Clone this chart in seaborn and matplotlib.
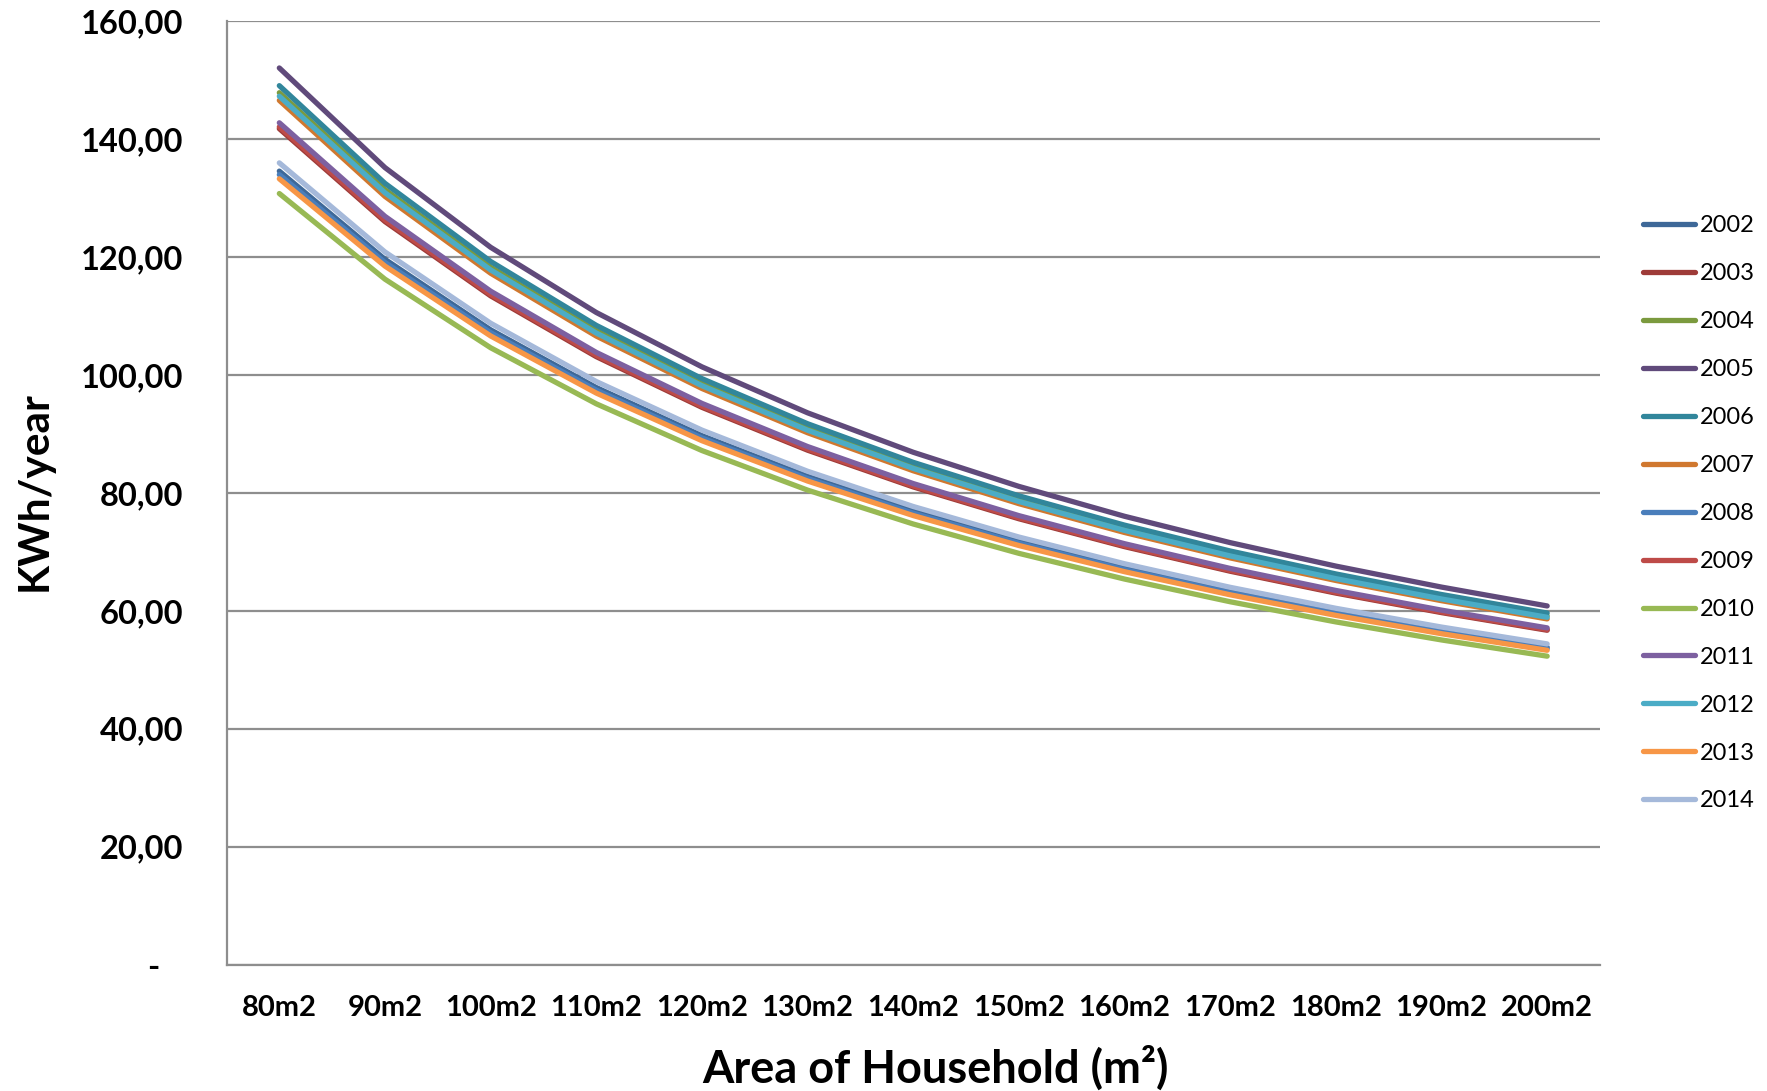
import matplotlib
matplotlib.use("Agg")
import matplotlib.pyplot as plt
import seaborn as sns
import pandas as pd

areas = ["80m2", "90m2", "100m2", "110m2", "120m2", "130m2", "140m2",
         "150m2", "160m2", "170m2", "180m2", "190m2", "200m2"]
years = ["2002", "2003", "2004", "2005", "2006", "2007", "2008",
         "2009", "2010", "2011", "2012", "2013", "2014"]

v2002 = [134.60, 119.64, 107.68, 97.89, 89.73, 82.83, 76.91, 71.79, 67.30, 63.34, 59.82, 56.67, 53.84]
v2003 = [141.80, 126.04, 113.44, 103.13, 94.53, 87.26, 81.03, 75.63, 70.90, 66.73, 63.02, 59.71, 56.72]
v2004 = [147.90, 131.47, 118.32, 107.56, 98.60, 91.02, 84.51, 78.88, 73.95, 69.60, 65.73, 62.27, 59.16]
v2005 = [152.10, 135.20, 121.68, 110.62, 101.40, 93.60, 86.91, 81.12, 76.05, 71.58, 67.60, 64.04, 60.84]
v2006 = [149.10, 132.53, 119.28, 108.44, 99.40, 91.75, 85.20, 79.52, 74.55, 70.16, 66.27, 62.78, 59.64]
v2007 = [146.60, 130.31, 117.28, 106.62, 97.73, 90.22, 83.77, 78.19, 73.30, 68.99, 65.16, 61.73, 58.64]
v2008 = [134.00, 119.11, 107.20, 97.45, 89.33, 82.46, 76.57, 71.47, 67.00, 63.06, 59.56, 56.42, 53.60]
v2009 = [142.10, 126.31, 113.68, 103.35, 94.73, 87.45, 81.20, 75.79, 71.05, 66.87, 63.16, 59.83, 56.84]
v2010 = [130.80, 116.27, 104.64, 95.13, 87.20, 80.49, 74.74, 69.76, 65.40, 61.55, 58.13, 55.07, 52.32]
v2011 = [142.80, 126.93, 114.24, 103.85, 95.20, 87.88, 81.60, 76.16, 71.40, 67.20, 63.47, 60.13, 57.12]
v2012 = [147.30, 130.93, 117.84, 107.13, 98.20, 90.65, 84.17, 78.56, 73.65, 69.32, 65.47, 62.02, 58.92]
v2013 = [133.30, 118.49, 106.64, 96.95, 88.87, 82.03, 76.17, 71.09, 66.65, 62.73, 59.24, 56.13, 53.32]
v2014 = [136.00, 120.89, 108.80, 98.91, 90.67, 83.69, 77.71, 72.53, 68.00, 64.00, 60.44, 57.26, 54.40]

series = [v2002, v2003, v2004, v2005, v2006, v2007, v2008,
          v2009, v2010, v2011, v2012, v2013, v2014]

colors = ["#3E6898", "#9E3B38", "#7B9A3E", "#604A7B", "#31869B", "#D0782F",
          "#4A7EBB", "#BE4B48", "#98B954", "#7D60A0", "#4BACC6", "#F79646",
          "#A5B9DA"]

yticks = [0, 20, 40, 60, 80, 100, 120, 140, 160]
ytick_labels = ["-   ", "20,00", "40,00", "60,00", "80,00", "100,00",
                "120,00", "140,00", "160,00"]

rows = []
for y, vals in zip(years, series):
    for a, v in zip(areas, vals):
        rows.append({"area": a, "year": y, "value": v})
df = pd.DataFrame(rows)

sns.set_theme(style="white")
plt.rcParams["font.family"] = ["Lato", "DejaVu Sans"]

W, H = 1767, 1091
fig = plt.figure(figsize=(W / 100, H / 100), dpi=100)
ax = fig.add_axes([226.5 / W, 1 - 964.6 / H, (1600 - 226.5) / W, (964.6 - 21.4) / H])

sns.lineplot(data=df, x="area", y="value", hue="year", hue_order=years,
             palette=colors, sort=False, linewidth=3.8, legend=False, ax=ax,
             solid_capstyle="round", solid_joinstyle="round")

ax.set_xlim(-0.5, len(areas) - 0.5)
ax.set_ylim(0, 160)
ax.set_yticks(yticks)
ax.set_yticklabels(ytick_labels)
ax.set_xticks(range(len(areas)))
ax.set_xticklabels(areas)

ax.yaxis.grid(True, color="#8E8E8E", linewidth=1.6)
ax.xaxis.grid(False)
ax.set_axisbelow(True)
for s in ["top", "right"]:
    ax.spines[s].set_visible(False)
for s in ["left", "bottom"]:
    ax.spines[s].set_color("#8E8E8E")
    ax.spines[s].set_linewidth(1.6)

ax.tick_params(axis="y", length=0, pad=31, labelsize=23.5)
ax.tick_params(axis="x", length=0, pad=22, labelsize=21)
for lab in ax.get_yticklabels() + ax.get_xticklabels():
    lab.set_fontweight("bold")
    lab.set_color("black")

ax.set_xlabel("")
ax.set_ylabel("")
fig.text(35 / W, 1 - 491 / H, "KWh/year", rotation=90, ha="center", va="center",
         fontsize=30.5, fontweight="bold", color="black")
fig.text(935 / W, 1 - 1068 / H, "Area of Household (m²)", ha="center", va="center",
         fontsize=32.5, fontweight="bold", color="black")

handles = ax.lines[:len(years)]
leg = ax.legend(handles=handles, labels=years, loc="upper left",
                bbox_to_anchor=(1634 / W, 1 - 206 / H), bbox_transform=fig.transFigure,
                frameon=False, fontsize=17, handlelength=2.2, handletextpad=0.2,
                labelspacing=1.14, borderaxespad=0)
for t in leg.get_texts():
    t.set_color("black")

fig.savefig("out.png", dpi=100, facecolor="white")
